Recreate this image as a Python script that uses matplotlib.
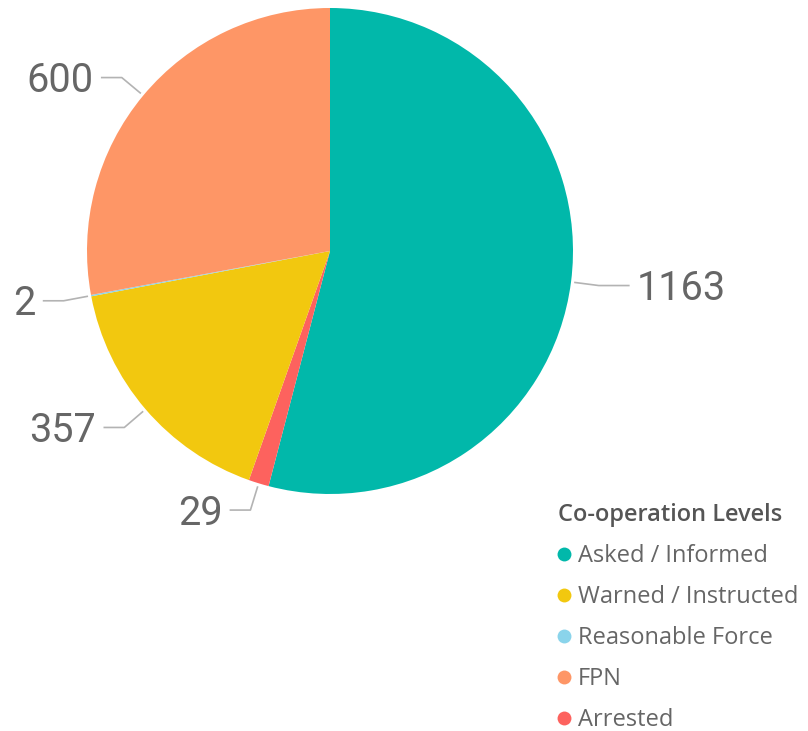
"""Co-operation levels pie chart (Power BI style)."""

import matplotlib
matplotlib.use("Agg")
import matplotlib.pyplot as plt
import numpy as np
from matplotlib.lines import Line2D


# slices in drawing order (clockwise from 12 o'clock)
slice_names = ["Asked / Informed", "Arrested", "Warned / Instructed", "Reasonable Force", "FPN"]
slice_values = [1163, 29, 357, 2, 600]

# legend order as shown in the report
legend_names = ["Asked / Informed", "Warned / Instructed", "Reasonable Force", "FPN", "Arrested"]
legend_title = "Co-operation Levels"

colors = {
    "Asked / Informed": "#01B8AA",
    "Warned / Instructed": "#F2C80F",
    "Reasonable Force": "#8AD4EB",
    "FPN": "#FE9666",
    "Arrested": "#FD625E",
}

W, H = 808, 731
fig = plt.figure(figsize=(W / 100, H / 100), dpi=100)
ax = fig.add_axes([0, 0, 1, 1])

cx, cy, r = 330, H - 251, 243
wedges, _ = ax.pie(slice_values, colors=[colors[n] for n in slice_names],
                   startangle=90, counterclock=False, radius=r, center=(cx, cy),
                   frame=True, wedgeprops=dict(linewidth=0))
ax.set_xlim(0, W)
ax.set_ylim(0, H)
ax.set_aspect("equal")
ax.axis("off")

label_color = "#666666"
line_color = "#B3B3B3"
for w, v in zip(wedges, slice_values):
    ang = np.deg2rad((w.theta1 + w.theta2) / 2)
    ux, uy = np.cos(ang), np.sin(ang)
    x0, y0 = cx + (r + 4) * ux, cy + (r + 4) * uy
    x1, y1 = cx + (r + 28) * ux, cy + (r + 28) * uy
    side = 1 if ux >= 0 else -1
    hlen = 30 if side > 0 else 20
    x2 = x1 + side * hlen
    ax.plot([x0, x1, x2], [y0, y1, y1], color=line_color, lw=1.2)
    ax.text(x2 + side * 8, y1 - 3, f"{v}", ha="left" if side > 0 else "right",
            va="center", fontsize=28.5, color=label_color, family="Roboto")

handles = [Line2D([], [], marker="o", linestyle="none", markersize=10,
                  markerfacecolor=colors[n], markeredgecolor="none") for n in legend_names]
leg = ax.legend(handles, legend_names, title=legend_title, loc="upper left",
                bbox_to_anchor=(558 / W, 1 - 503 / H), frameon=False,
                prop={"family": "Open Sans", "size": 17}, labelcolor="#666666",
                handlelength=0.55, handletextpad=0.3, labelspacing=0.72,
                borderaxespad=0, borderpad=0, alignment="left")
leg.get_title().set_fontproperties({"family": "Open Sans", "size": 17, "weight": "semibold"})
leg.get_title().set_color("#555555")

fig.savefig("out.png", dpi=100)
